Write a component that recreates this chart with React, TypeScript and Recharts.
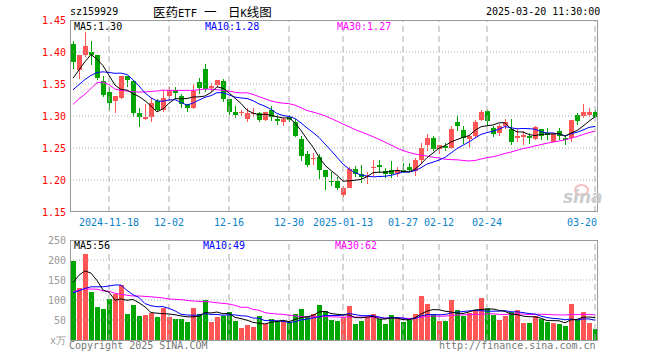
import React from 'react';
import { ComposedChart, Bar, Line, XAxis, YAxis, ReferenceLine } from 'recharts';

const MONO = "'DejaVu Sans Mono', 'Liberation Mono', monospace";
const CJK = "'Noto Sans CJK SC', sans-serif";
const RED = '#ff5555';
const GREEN = '#00a600';

const dates = [
  '2024-11-08', '2024-11-11', '2024-11-12', '2024-11-13', '2024-11-14', '2024-11-15',
  '2024-11-18', '2024-11-19', '2024-11-20', '2024-11-21', '2024-11-22',
  '2024-11-25', '2024-11-26', '2024-11-27', '2024-11-28', '2024-11-29',
  '2024-12-02', '2024-12-03', '2024-12-04', '2024-12-05', '2024-12-06',
  '2024-12-09', '2024-12-10', '2024-12-11', '2024-12-12', '2024-12-13',
  '2024-12-16', '2024-12-17', '2024-12-18', '2024-12-19', '2024-12-20',
  '2024-12-23', '2024-12-24', '2024-12-25', '2024-12-26', '2024-12-27',
  '2024-12-30', '2024-12-31', '2025-01-02', '2025-01-03',
  '2025-01-06', '2025-01-07', '2025-01-08', '2025-01-09', '2025-01-10',
  '2025-01-13', '2025-01-14', '2025-01-15', '2025-01-16', '2025-01-17',
  '2025-01-20', '2025-01-21', '2025-01-22', '2025-01-23', '2025-01-24',
  '2025-01-27', '2025-02-05', '2025-02-06', '2025-02-07',
  '2025-02-10', '2025-02-11', '2025-02-12', '2025-02-13', '2025-02-14',
  '2025-02-17', '2025-02-18', '2025-02-19', '2025-02-20', '2025-02-21',
  '2025-02-24', '2025-02-25', '2025-02-26', '2025-02-27', '2025-02-28',
  '2025-03-03', '2025-03-04', '2025-03-05', '2025-03-06', '2025-03-07',
  '2025-03-10', '2025-03-11', '2025-03-12', '2025-03-13', '2025-03-14',
  '2025-03-17', '2025-03-18', '2025-03-19', '2025-03-20',
];

const opens = [
  1.413, 1.372, 1.395, 1.400, 1.396, 1.355, 1.338, 1.323, 1.328, 1.362,
  1.355, 1.305, 1.296, 1.298, 1.323, 1.309, 1.331, 1.341, 1.332, 1.318,
  1.312, 1.353, 1.374, 1.344, 1.349, 1.354, 1.327, 1.307, 1.304, 1.295,
  1.303, 1.304, 1.293, 1.310, 1.296, 1.291, 1.298, 1.291, 1.264, 1.241,
  1.233, 1.236, 1.215, 1.199, 1.199, 1.176, 1.188, 1.217, 1.209, 1.205,
  1.219, 1.224, 1.214, 1.216, 1.210, 1.216, 1.221, 1.214, 1.231, 1.254,
  1.266, 1.249, 1.253, 1.250, 1.291, 1.278, 1.264, 1.268, 1.293, 1.308,
  1.281, 1.273, 1.284, 1.280, 1.265, 1.267, 1.268, 1.264, 1.279, 1.274,
  1.260, 1.276, 1.265, 1.266, 1.302, 1.300, 1.301, 1.306,
];
const highs = [
  1.417, 1.396, 1.432, 1.417, 1.396, 1.363, 1.345, 1.332, 1.363, 1.363,
  1.356, 1.313, 1.318, 1.328, 1.327, 1.341, 1.346, 1.345, 1.335, 1.319,
  1.350, 1.359, 1.382, 1.352, 1.357, 1.358, 1.327, 1.315, 1.310, 1.313,
  1.313, 1.306, 1.307, 1.315, 1.302, 1.297, 1.301, 1.295, 1.268, 1.245,
  1.242, 1.240, 1.216, 1.212, 1.204, 1.190, 1.221, 1.222, 1.224, 1.212,
  1.232, 1.231, 1.218, 1.229, 1.220, 1.227, 1.226, 1.234, 1.258, 1.272,
  1.268, 1.254, 1.258, 1.285, 1.301, 1.285, 1.271, 1.294, 1.309, 1.310,
  1.284, 1.288, 1.296, 1.296, 1.279, 1.276, 1.273, 1.284, 1.279, 1.281,
  1.273, 1.281, 1.269, 1.293, 1.304, 1.318, 1.313, 1.309,
];
const lows = [
  1.373, 1.358, 1.392, 1.379, 1.356, 1.330, 1.310, 1.304, 1.327, 1.346,
  1.299, 1.283, 1.294, 1.290, 1.308, 1.307, 1.323, 1.328, 1.313, 1.306,
  1.311, 1.334, 1.338, 1.338, 1.346, 1.322, 1.301, 1.297, 1.300, 1.290,
  1.298, 1.290, 1.292, 1.292, 1.286, 1.284, 1.290, 1.267, 1.229, 1.220,
  1.224, 1.201, 1.185, 1.190, 1.184, 1.173, 1.187, 1.205, 1.196, 1.194,
  1.206, 1.211, 1.203, 1.203, 1.205, 1.211, 1.212, 1.207, 1.227, 1.245,
  1.245, 1.240, 1.245, 1.248, 1.276, 1.257, 1.250, 1.266, 1.292, 1.285,
  1.267, 1.268, 1.279, 1.255, 1.260, 1.255, 1.257, 1.263, 1.262, 1.263,
  1.259, 1.263, 1.255, 1.260, 1.286, 1.297, 1.298, 1.297,
];
const closes = [
  1.385, 1.395, 1.409, 1.396, 1.360, 1.333, 1.320, 1.332, 1.362, 1.356,
  1.304, 1.298, 1.299, 1.321, 1.310, 1.328, 1.341, 1.336, 1.319, 1.313,
  1.339, 1.343, 1.342, 1.347, 1.357, 1.327, 1.307, 1.301, 1.306, 1.304,
  1.305, 1.293, 1.306, 1.298, 1.292, 1.296, 1.293, 1.268, 1.238, 1.224,
  1.234, 1.215, 1.204, 1.197, 1.187, 1.188, 1.217, 1.209, 1.204, 1.207,
  1.221, 1.220, 1.209, 1.210, 1.215, 1.213, 1.216, 1.231, 1.250, 1.265,
  1.249, 1.254, 1.250, 1.279, 1.284, 1.266, 1.268, 1.291, 1.307, 1.292,
  1.272, 1.285, 1.291, 1.260, 1.268, 1.271, 1.265, 1.283, 1.269, 1.271,
  1.272, 1.268, 1.262, 1.293, 1.292, 1.306, 1.306, 1.298,
];
// moving-average values for the first days (history before the window)
const ma5Lead = [1.359, 1.372, 1.385, 1.396];
const ma10Lead = [1.341, 1.349, 1.357, 1.3635, 1.368, 1.369, 1.368, 1.3667, 1.367];
const ma30Lead = [
  1.318, 1.327, 1.334, 1.343, 1.352, 1.353, 1.349, 1.342, 1.340, 1.339,
  1.338, 1.3375, 1.3375, 1.3385, 1.339, 1.3405, 1.340, 1.340, 1.340, 1.340,
  1.340, 1.341, 1.342, 1.342, 1.341, 1.340, 1.339, 1.337, 1.336,
];

const volumes = [
  197.5, 129, 215, 120, 82.5, 77.5, 102.5, 114, 137.5, 65,
  87.5, 61, 62.5, 67, 57.5, 81, 57.5, 52.5, 52.5, 46,
  81, 65, 100, 46, 57.5, 60, 71, 48, 31, 37.5,
  33, 60, 39, 52, 48, 47, 44, 65, 77, 57,
  64, 87, 73, 50, 47.5, 57, 85, 40, 48, 57,
  65, 52, 40, 62.5, 54, 46, 50, 65, 110, 90,
  65, 47.5, 48, 100, 75, 61, 67, 73, 105, 80,
  62.5, 50, 60, 71, 75, 42.5, 42.5, 60, 52.5, 45,
  42, 40, 35, 90, 50, 70, 42.5, 27.5,
];
const volMa5Lead = [144, 162, 173, 167];
const volMa10Lead = [118, 123, 129, 133, 133, 133, 135, 137.5, 137.5];
const volMa30Lead = [
  121, 125, 127.5, 127.5, 127, 123, 121.7, 117, 114, 112,
  110, 110, 109, 108, 106.7, 105, 102.5, 101.7, 101, 99,
  97.5, 96.7, 96, 95, 93, 91.7, 90, 86.7, 81.7,
];

const tickDates = ['2024-11-18', '2024-12-02', '2024-12-16', '2024-12-30', '2025-01-13', '2025-01-27', '2025-02-12', '2025-02-24', '2025-03-20'];
const tickLabels = ['2024-11-18', '12-02', '12-16', '12-30', '2025-01-13', '01-27', '02-12', '02-24', '03-20'];
const priceTicks = [1.15, 1.2, 1.25, 1.3, 1.35, 1.4, 1.45];
const volTicks = [0, 50, 100, 150, 200, 250];
const priceLegend = ['MA5:1.30', 'MA10:1.28', 'MA30:1.27'];
const volLegend = ['MA5:56', 'MA10:49', 'MA30:62'];

function movingAvg(values: number[], n: number, lead: number[]) {
  return values.map((_, i) => {
    if (i < n - 1) return lead[i];
    let s = 0;
    for (let j = i - n + 1; j <= i; j++) s += values[j];
    return s / n;
  });
}

const ma5 = movingAvg(closes, 5, ma5Lead);
const ma10 = movingAvg(closes, 10, ma10Lead);
const ma30 = movingAvg(closes, 30, ma30Lead);
const vma5 = movingAvg(volumes, 5, volMa5Lead);
const vma10 = movingAvg(volumes, 10, volMa10Lead);
const vma30 = movingAvg(volumes, 30, volMa30Lead);

const priceRows = dates.map((d, i) => ({
  date: d,
  range: [lows[i], highs[i]],
  open: opens[i],
  close: closes[i],
  high: highs[i],
  low: lows[i],
  ma5: ma5[i],
  ma10: ma10[i],
  ma30: ma30[i],
}));

const volRows = dates.map((d, i) => ({
  date: d,
  vol: volumes[i],
  up: closes[i] >= opens[i],
  ma5: vma5[i],
  ma10: vma10[i],
  ma30: vma30[i],
}));

const Candle = (props: any) => {
  const { x, y, height, index } = props;
  const p = props.payload && props.payload.open != null ? props.payload : priceRows[index];
  if (x == null || y == null || !p) return null;
  const top = Math.min(y, y + height);
  const h = Math.abs(height);
  const k = p.high > p.low ? h / (p.high - p.low) : 0;
  const py = (v: number) => top + (p.high - v) * k;
  const color = p.close >= p.open ? RED : GREEN;
  const bx = Math.floor(x);
  const yTop = Math.round(py(Math.max(p.open, p.close)));
  const yBot = Math.round(py(Math.min(p.open, p.close)));
  const bh = Math.max(1, yBot - yTop);
  const cx = bx + 2.5;
  return (
    <g>
      <line x1={cx} x2={cx} y1={Math.round(top)} y2={Math.round(top + h)} stroke={color} strokeWidth={1} />
      <rect x={bx} y={yTop} width={5} height={bh} fill={color} />
    </g>
  );
};

const VolBar = (props: any) => {
  const { x, y, height, index } = props;
  const p = props.payload && props.payload.vol != null ? props.payload : volRows[index];
  if (x == null || y == null || !p) return null;
  const t = Math.round(Math.min(y, y + height));
  const b = Math.round(Math.max(y, y + height));
  return <rect x={Math.floor(x)} y={t} width={5} height={Math.max(1, b - t)} fill={p.up ? RED : GREEN} />;
};

const DateTick = (props: any) => {
  const { x, y, payload } = props;
  const i = tickDates.indexOf(payload.value);
  const label = i >= 0 ? tickLabels[i] : '';
  const last = i === tickDates.length - 1;
  return (
    <text
      x={last ? x + 2 : x}
      y={y + 13.5}
      textAnchor={last ? 'end' : 'middle'}
      fill="#0a82c8"
      fontSize={10}
      fontFamily={MONO}
    >
      {label}
    </text>
  );
};

const txt = (left: number, top: number, color: string, s: string, extra: any = {}) => (
  <div
    style={{
      position: 'absolute',
      left,
      top,
      color,
      fontFamily: MONO,
      fontSize: 10,
      lineHeight: '12px',
      whiteSpace: 'pre',
      ...extra,
    }}
  >
    {s}
  </div>
);

export default function App() {
  return (
    <div style={{ position: 'absolute', left: 0, top: 0, width: 660, height: 360, background: '#fff', overflow: 'hidden' }}>
      <div style={{ position: 'absolute', left: 0, top: 0 }}>
        <ComposedChart width={660} height={232} data={priceRows} margin={{ top: 20, right: 62, bottom: 0, left: 0 }}>
          <XAxis
            dataKey="date"
            ticks={tickDates}
            interval={0}
            axisLine={false}
            tickLine={false}
            tickSize={0}
            tickMargin={0}
            height={20}
            tick={<DateTick />}
          />
          <YAxis
            type="number"
            domain={[1.15, 1.45]}
            ticks={priceTicks}
            allowDataOverflow
            width={70}
            axisLine={false}
            tickLine={false}
            tickSize={2}
            tickMargin={2}
            tickFormatter={(v: number) => v.toFixed(2)}
            tick={{ fill: '#ff0000', fontSize: 10, fontFamily: MONO }}
          />
          {priceTicks.slice(1, -1).map((v) => (
            <ReferenceLine key={'h' + v} y={v} stroke="#aaaaaa" strokeDasharray="1 2" />
          ))}
          {tickDates.map((d) => (
            <ReferenceLine key={'v' + d} x={d} stroke="#aaaaaa" strokeDasharray="6 4" />
          ))}
          <Bar dataKey="range" barSize={5} shape={<Candle />} isAnimationActive={false} />
          <Line dataKey="ma30" stroke="#ff00ff" strokeWidth={1} dot={false} type="linear" isAnimationActive={false} />
          <Line dataKey="ma10" stroke="#0000ff" strokeWidth={1} dot={false} type="linear" isAnimationActive={false} />
          <Line dataKey="ma5" stroke="#000000" strokeWidth={1} dot={false} type="linear" isAnimationActive={false} />
        </ComposedChart>
      </div>
      <div style={{ position: 'absolute', left: 0, top: 232 }}>
        <ComposedChart width={660} height={128} data={volRows} margin={{ top: 8, right: 62, bottom: 20, left: 0 }}>
          <XAxis dataKey="date" hide />
          <YAxis
            type="number"
            domain={[0, 250]}
            ticks={volTicks}
            allowDataOverflow
            width={70}
            axisLine={false}
            tickLine={false}
            tickSize={2}
            tickMargin={2}
            tickFormatter={(v: number) => (v === 0 ? 'x万' : String(v))}
            tick={{ fill: '#999999', fontSize: 10, fontFamily: MONO }}
          />
          {volTicks.slice(1, -1).map((v) => (
            <ReferenceLine key={'vh' + v} y={v} stroke="#aaaaaa" strokeDasharray="1 2" />
          ))}
          {tickDates.map((d) => (
            <ReferenceLine key={'vv' + d} x={d} stroke="#aaaaaa" strokeDasharray="6 4" />
          ))}
          <Bar dataKey="vol" barSize={5} shape={<VolBar />} isAnimationActive={false} />
          <Line dataKey="ma30" stroke="#ff00ff" strokeWidth={1} dot={false} type="linear" isAnimationActive={false} />
          <Line dataKey="ma10" stroke="#0000ff" strokeWidth={1} dot={false} type="linear" isAnimationActive={false} />
          <Line dataKey="ma5" stroke="#000000" strokeWidth={1} dot={false} type="linear" isAnimationActive={false} />
        </ComposedChart>
      </div>

      {/* plot frames */}
      <div style={{ position: 'absolute', left: 70, top: 20, width: 528, height: 192, border: '1px solid #999', boxSizing: 'border-box', pointerEvents: 'none' }} />
      <div style={{ position: 'absolute', left: 70, top: 240, width: 528, height: 101, border: '1px solid #999', boxSizing: 'border-box', pointerEvents: 'none' }} />

      {/* header */}
      {txt(70, 6, '#000', 'sz159929')}
      <div style={{ position: 'absolute', left: 153, top: 4, lineHeight: '16px', whiteSpace: 'pre', color: '#000' }}>
        <span style={{ fontFamily: CJK, fontSize: 12.5 }}>医药</span>
        <span style={{ fontFamily: MONO, fontSize: 10.5 }}>ETF</span>
      </div>
      <div style={{ position: 'absolute', left: 204, top: 4, lineHeight: '16px', whiteSpace: 'pre', color: '#000', fontFamily: CJK, fontSize: 12.5 }}>
        一
      </div>
      <div style={{ position: 'absolute', left: 228, top: 4, lineHeight: '16px', whiteSpace: 'pre', color: '#000' }}>
        <span style={{ fontFamily: CJK, fontSize: 12.5 }}>日</span>
        <span style={{ fontFamily: MONO, fontSize: 10.5 }}>K</span>
        <span style={{ fontFamily: CJK, fontSize: 12.5 }}>线图</span>
      </div>
      {txt(486, 6, '#000', '2025-03-20 11:30:00')}

      {/* legends */}
      {txt(74, 21, '#000', priceLegend[0])}
      {txt(205, 21, '#0000ff', priceLegend[1])}
      {txt(337, 21, '#ff00ff', priceLegend[2])}
      {txt(74, 240, '#000', volLegend[0])}
      {txt(203, 240, '#0000ff', volLegend[1])}
      {txt(335, 240, '#ff00ff', volLegend[2])}

      {/* footer */}
      {txt(69, 340, '#777', 'Copyright 2025 SINA.COM')}
      {txt(439, 340, '#777', 'http://finance.sina.com.cn')}

      {/* watermark */}
      <div style={{ position: 'absolute', left: 574, top: 184, width: 11, height: 8, border: '2px solid #f4bcbc', borderRadius: '50%', pointerEvents: 'none' }} />
      <div style={{ position: 'absolute', left: 563, top: 189, color: '#cccccc', fontFamily: "'DejaVu Sans', sans-serif", fontSize: 17, fontWeight: 'bold', fontStyle: 'italic', lineHeight: '17px', pointerEvents: 'none' }}>
        sina
      </div>
    </div>
  );
}
